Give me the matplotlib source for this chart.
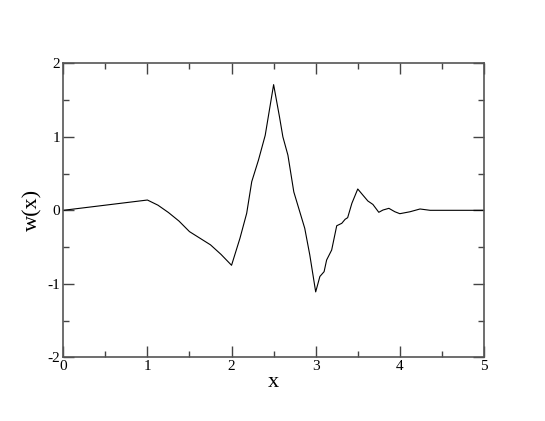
import numpy as np
import matplotlib
matplotlib.use('Agg')
from matplotlib import pyplot as plt
from matplotlib.ticker import MultipleLocator

plt.rcParams['font.family'] = ['Liberation Serif', 'DejaVu Serif']
plt.rcParams['axes.unicode_minus'] = False

# w(x)
x_vals = [0.0, 1.0, 1.125, 1.25, 1.375, 1.5, 1.625, 1.75, 1.875, 2.0,
          2.1, 2.18, 2.24, 2.32, 2.4, 2.5, 2.57, 2.61, 2.67, 2.74,
          2.87, 2.93, 3.0, 3.05, 3.1, 3.13, 3.19, 3.25, 3.31, 3.35,
          3.38, 3.43, 3.5, 3.56, 3.62, 3.68, 3.75, 3.8, 3.87, 3.94,
          4.0, 4.12, 4.24, 4.36, 5.0]
w_vals = [0.0, 0.14, 0.07, -0.03, -0.146, -0.29, -0.38, -0.47, -0.6, -0.748,
          -0.38, -0.04, 0.39, 0.684, 1.02, 1.71, 1.27, 1.0, 0.75, 0.25,
          -0.245, -0.608, -1.11, -0.90, -0.835, -0.676, -0.54, -0.21, -0.177, -0.122,
          -0.10, 0.095, 0.29, 0.208, 0.127, 0.08, -0.027, 0.004, 0.027, -0.019,
          -0.046, -0.02, 0.018, 0.0, 0.0]

fig = plt.figure(figsize=(5.45, 4.21), dpi=100)
ax = fig.add_axes([0.1161, 0.1513, 0.7719, 0.6983])

ax.plot(x_vals, w_vals, color='black', linewidth=0.8)

ax.set_xlim(0, 5)
ax.set_ylim(-2, 2)
ax.xaxis.set_major_locator(MultipleLocator(1))
ax.xaxis.set_minor_locator(MultipleLocator(0.5))
ax.yaxis.set_major_locator(MultipleLocator(1))
ax.yaxis.set_minor_locator(MultipleLocator(0.5))
ax.tick_params(which='both', direction='in', top=True, right=True,
               labelsize=11, pad=2, color='#444444')
ax.tick_params(which='major', length=8, width=1)
ax.tick_params(which='minor', length=4, width=1)
for s in ax.spines.values():
    s.set_color('#555555')
    s.set_linewidth(1.2)

ax.set_xlabel('x', fontsize=16, labelpad=0)
ax.set_ylabel('w(x)', fontsize=16, labelpad=4)

plt.savefig('out.png', dpi=100)
